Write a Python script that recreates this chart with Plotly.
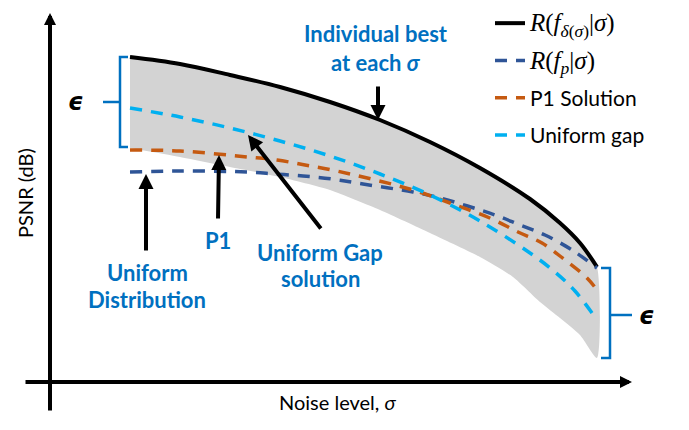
import plotly.graph_objects as go

# ---------------- data (schematic units) ----------------
sigma_best = [130, 180, 230, 280, 330, 380, 430, 480, 530, 560, 580, 597]
psnr_best = [373, 366, 355, 343, 328, 310, 288, 262, 231, 207, 187, 163]

sigma_low = [130, 180, 230, 280, 330, 380, 430, 480, 513, 540, 560, 580, 597]
psnr_low = [282, 273, 263, 253, 240, 220, 197, 173, 153, 128, 112, 95, 72]

sigma_fp = [130, 180, 247, 275, 303, 332, 363, 413, 440, 495, 520, 545, 572, 597]
psnr_fp = [258, 259, 258, 256, 254, 251, 246, 238, 232, 215, 205, 195, 180, 162]

sigma_p1 = [130, 180, 248, 277, 305, 332, 363, 413, 450, 492, 518, 542, 565, 587, 597]
psnr_p1 = [280, 279, 273, 270, 265, 260, 253, 240, 227, 211, 198, 187, 170, 152, 140]

sigma_ug = [130, 180, 230, 280, 330, 380, 430, 480, 530, 555, 575, 597]
psnr_ug = [322, 313, 302, 289, 274, 256, 235, 209, 177, 158, 139, 110]

MATH = 'font-family:Liberation Serif;font-size:25px'
legend_names = [
    f'<span style="{MATH}"><i>R</i>(<i>f</i><sub><i>δ</i>(<i>σ</i>)</sub>|<i>σ</i>)</span>',
    f'<span style="{MATH}"><i>R</i>(<i>f</i><sub><i>p</i></sub>|<i>σ</i>)</span>',
    'P1 Solution',
    'Uniform gap',
]

BLACK = "#000000"
DKBLUE = "#2F5597"
ORANGE = "#C55A11"
LTBLUE = "#00B0F0"
ANN = "#0070C0"
GRAY = "#d3d3d3"
DASH = "12px,9px"

# page body has an 8px margin: the figure is drawn 8px in from the window edge
W, H, OFF = 681, 422, 8

fig = go.Figure()

# gray band between best curve and lower envelope
fig.add_trace(go.Scatter(
    x=sigma_best + sigma_low[::-1],
    y=psnr_best + psnr_low[::-1],
    fill="toself", fillcolor=GRAY, mode="lines",
    line=dict(width=0, shape="spline", smoothing=0.6),
    showlegend=False, hoverinfo="skip"))

fig.add_trace(go.Scatter(x=sigma_best, y=psnr_best, mode="lines", name=legend_names[0],
                         legendgroup="a",
                         line=dict(color=BLACK, width=4, shape="spline")))
fig.add_trace(go.Scatter(x=sigma_fp, y=psnr_fp, mode="lines", name=legend_names[1],
                         legendgroup="b",
                         line=dict(color=DKBLUE, width=3.5, dash=DASH, shape="spline")))
fig.add_trace(go.Scatter(x=sigma_p1, y=psnr_p1, mode="lines", name=legend_names[2],
                         legendgroup="c",
                         line=dict(color=ORANGE, width=3.5, dash=DASH, shape="spline")))
fig.add_trace(go.Scatter(x=sigma_ug, y=psnr_ug, mode="lines", name=legend_names[3],
                         legendgroup="d",
                         line=dict(color=LTBLUE, width=3.5, dash=DASH, shape="spline")))

ann = []
# axes drawn as arrows
ann.append(dict(x=50, y=417, ax=50, ay=18, xref="x", yref="y", axref="x", ayref="y",
                text="", showarrow=True, arrowhead=2, arrowwidth=4, arrowsize=0.6,
                arrowcolor=BLACK, standoff=0, startstandoff=0))
ann.append(dict(x=632, y=48, ax=24, ay=48, xref="x", yref="y", axref="x", ayref="y",
                text="", showarrow=True, arrowhead=2, arrowwidth=4, arrowsize=0.6,
                arrowcolor=BLACK, standoff=0, startstandoff=0))

# pointer arrows
pointers = [((378, 310), (378, 345)),
            ((146, 256), (146, 178)),
            ((219, 275), (218, 210)),
            ((248, 295), (322, 200))]
for (tx, ty), (sx, sy) in pointers:
    ann.append(dict(x=tx, y=ty, ax=sx, ay=sy, xref="x", yref="y", axref="x", ayref="y",
                    text="", showarrow=True, arrowhead=2, arrowwidth=4, arrowsize=0.75,
                    arrowcolor=BLACK, standoff=0, startstandoff=0))

blue_font = dict(family="Lato", size=22, color=ANN, weight="bold")
labels = [("Individual best", 376, 397), ("at each <i>σ</i>", 376, 368),
          ("Uniform", 147, 158), ("Distribution", 147, 131),
          ("P1", 218, 190),
          ("Uniform Gap", 320, 178), ("solution", 320, 152)]
for t, x, y in labels:
    ann.append(dict(x=x, y=y, xref="x", yref="y", text=t, showarrow=False,
                    font=blue_font))

# axis titles
ann.append(dict(x=25, y=237, xref="x", yref="y", text="PSNR (dB)", textangle=-90,
                showarrow=False, font=dict(family="Lato", size=20, color=BLACK)))
ann.append(dict(x=337, y=28, xref="x", yref="y", text="Noise level, <i>σ</i>",
                showarrow=False, font=dict(family="Lato", size=20, color=BLACK)))

# epsilons
eps_font = dict(family="DejaVu Sans", size=24, color=BLACK, weight="bold", style="italic")
ann.append(dict(x=75, y=328, xref="x", yref="y", text="ϵ", showarrow=False, font=eps_font))
ann.append(dict(x=646, y=114, xref="x", yref="y", text="ϵ", showarrow=False, font=eps_font))

shapes = [
    dict(type="path", xref="x", yref="y",
         path="M 128,373 L 120,373 L 120,283 L 128,283",
         line=dict(color=ANN, width=2.5)),
    dict(type="line", xref="x", yref="y", x0=103, y0=328, x1=120, y1=328,
         line=dict(color=ANN, width=2.5)),
    dict(type="path", xref="x", yref="y",
         path="M 601,162 L 610,162 L 610,72 L 601,72",
         line=dict(color=ANN, width=2.5)),
    dict(type="line", xref="x", yref="y", x0=610, y0=115, x1=632, y1=115,
         line=dict(color=ANN, width=2.5)),
]

fig.update_layout(
    width=W, height=H,
    margin=dict(l=0, r=0, t=0, b=0, autoexpand=False),
    paper_bgcolor="white", plot_bgcolor="white",
    xaxis=dict(range=[OFF, OFF + W], visible=False, fixedrange=True),
    yaxis=dict(range=[0, H], visible=False, fixedrange=True),
    showlegend=True,
    legend=dict(x=(490 - OFF) / W, y=1 + 5 / H, xanchor="left", yanchor="top",
                font=dict(family="Lato", size=21, color=BLACK),
                bgcolor="rgba(0,0,0,0)", traceorder="grouped", tracegroupgap=7),
    annotations=ann, shapes=shapes,
)

fig.write_html("out.html")
